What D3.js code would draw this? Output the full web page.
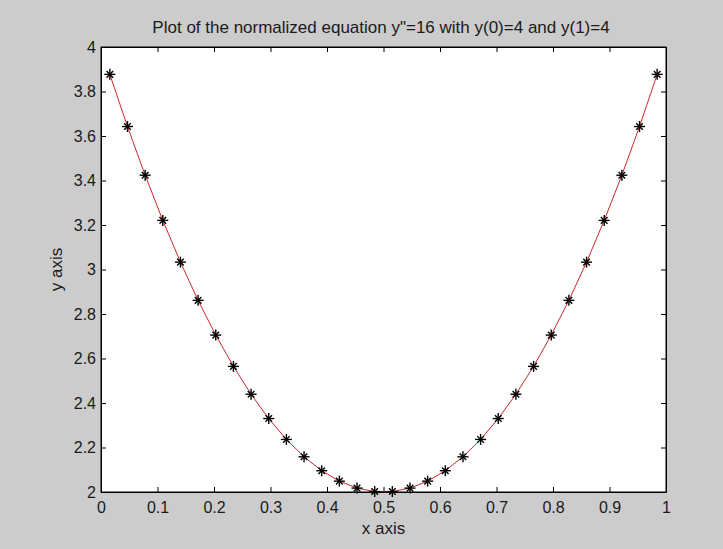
<!DOCTYPE html>
<html>
<head>
<meta charset="utf-8">
<script src="https://cdn.jsdelivr.net/npm/d3@7"></script>
<style>
  html, body { margin: 0; padding: 0; background: #cccccc; }
  svg { display: block; }
  text { font-family: Arial, "Liberation Sans", sans-serif; fill: #1a1a1a; }
</style>
</head>
<body>
<svg id="chart" width="723" height="549"></svg>
<script>
// Sample points of y'' = 16, y(0)=4, y(1)=4
const xValues = [
  0.015625, 0.046875, 0.078125, 0.109375, 0.140625, 0.171875, 0.203125, 0.234375,
  0.265625, 0.296875, 0.328125, 0.359375, 0.390625, 0.421875, 0.453125, 0.484375,
  0.515625, 0.546875, 0.578125, 0.609375, 0.640625, 0.671875, 0.703125, 0.734375,
  0.765625, 0.796875, 0.828125, 0.859375, 0.890625, 0.921875, 0.953125, 0.984375
];
const yValues = [
  3.8770, 3.6426, 3.4238, 3.2207, 3.0332, 2.8613, 2.7051, 2.5645,
  2.4395, 2.3301, 2.2363, 2.1582, 2.0957, 2.0488, 2.0176, 2.0020,
  2.0020, 2.0176, 2.0488, 2.0957, 2.1582, 2.2363, 2.3301, 2.4395,
  2.5645, 2.7051, 2.8613, 3.0332, 3.2207, 3.4238, 3.6426, 3.8770
];
const xTicks = [0, 0.1, 0.2, 0.3, 0.4, 0.5, 0.6, 0.7, 0.8, 0.9, 1];
const yTicks = [2, 2.2, 2.4, 2.6, 2.8, 3, 3.2, 3.4, 3.6, 3.8, 4];
const titleText = 'Plot of the normalized equation y"=16 with y(0)=4 and y(1)=4';

const svg = d3.select("#chart");
const box = { left: 101, top: 47, right: 666, bottom: 492 };

const x = d3.scaleLinear().domain([0, 1]).range([box.left, box.right]);
const y = d3.scaleLinear().domain([2, 4]).range([box.bottom, box.top]);

// white axes area
svg.append("rect")
  .attr("x", box.left).attr("y", box.top)
  .attr("width", box.right - box.left).attr("height", box.bottom - box.top)
  .attr("fill", "#ffffff");

const fmt = d => d3.format("")(d);

// axes with inward ticks on all four sides
const tick = 5;
svg.append("g").attr("transform", `translate(0,${box.bottom})`)
  .call(d3.axisBottom(x).tickValues(xTicks).tickFormat(fmt).tickSizeInner(-tick).tickSizeOuter(0).tickPadding(10));
svg.append("g").attr("transform", `translate(0,${box.top})`)
  .call(d3.axisTop(x).tickValues(xTicks).tickFormat("").tickSizeInner(-tick).tickSizeOuter(0));
svg.append("g").attr("transform", `translate(${box.left},0)`)
  .call(d3.axisLeft(y).tickValues(yTicks).tickFormat(fmt).tickSizeInner(-tick).tickSizeOuter(0).tickPadding(5));
svg.append("g").attr("transform", `translate(${box.right},0)`)
  .call(d3.axisRight(y).tickValues(yTicks).tickFormat("").tickSizeInner(-tick).tickSizeOuter(0));

svg.selectAll(".domain").attr("stroke", "#000").attr("stroke-width", 1);
svg.selectAll(".tick line").attr("stroke", "#000");
svg.selectAll(".tick text").attr("font-size", 16).attr("fill", "#1a1a1a")
  .attr("font-family", "Arial, 'Liberation Sans', sans-serif");

// solution curve
const pts = xValues.map((v, i) => [v, yValues[i]]);
svg.append("path")
  .datum(pts)
  .attr("fill", "none")
  .attr("stroke", "#c8282d")
  .attr("stroke-width", 1)
  .attr("d", d3.line().x(d => x(d[0])).y(d => y(d[1])));

// asterisk markers
const r = 5.5;
const mk = svg.append("g").attr("stroke", "#000").attr("stroke-width", 1.4);
pts.forEach(d => {
  const cx = x(d[0]), cy = y(d[1]);
  const g = mk.append("g").attr("transform", `translate(${cx},${cy})`);
  g.append("line").attr("x1", -r).attr("x2", r).attr("y1", 0).attr("y2", 0);
  g.append("line").attr("x1", 0).attr("x2", 0).attr("y1", -r).attr("y2", r);
  const q = r * 0.6;
  g.append("line").attr("x1", -q).attr("x2", q).attr("y1", -q).attr("y2", q);
  g.append("line").attr("x1", -q).attr("x2", q).attr("y1", q).attr("y2", -q);
});

// frame on top
svg.append("rect")
  .attr("x", box.left).attr("y", box.top)
  .attr("width", box.right - box.left).attr("height", box.bottom - box.top)
  .attr("fill", "none").attr("stroke", "#000").attr("stroke-width", 1);

// labels
svg.append("text")
  .attr("x", 381).attr("y", 33)
  .attr("text-anchor", "middle").attr("font-size", 17)
  .text(titleText);
svg.append("text")
  .attr("x", (box.left + box.right) / 2).attr("y", 534)
  .attr("text-anchor", "middle").attr("font-size", 17)
  .text("x axis");
svg.append("text")
  .attr("transform", `translate(${62},${(box.top + box.bottom) / 2}) rotate(-90)`)
  .attr("text-anchor", "middle").attr("font-size", 17)
  .text("y axis");
</script>
</body>
</html>
